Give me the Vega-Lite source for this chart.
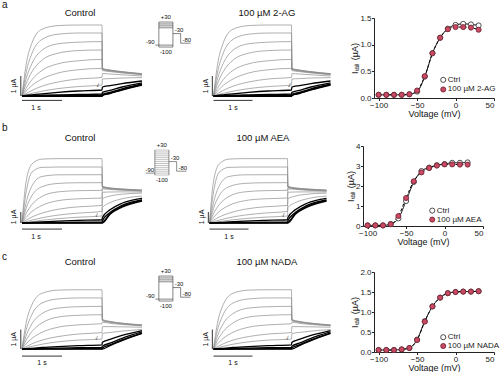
{
"$schema": "https://vega.github.io/schema/vega-lite/v6.json",
"padding": {"left": 2, "top": 0, "right": 1, "bottom": 0},
"config": {
 "font": "Liberation Sans",
 "view": {"stroke": null},
 "text": {"color": "#111"},
 "axis": {"labelFontSize": 8, "titleFontSize": 9, "titleFontWeight": "normal", "labelColor": "#222", "titleColor": "#111", "domainColor": "#222", "tickColor": "#222", "tickSize": 2.5, "labelPadding": 0.5, "titlePadding": 0, "grid": false}
},
"datasets": {
 "ta": [
{"k":1,"t":0,"i":0},{"k":1,"t":0.1,"i":1.53},{"k":1,"t":0.25,"i":2.66},{"k":1,"t":0.5,"i":3.34},{"k":1,"t":0.9,"i":3.52},{"k":1,"t":1.4,"i":3.55},{"k":1,"t":2,"i":3.55},{"k":1,"t":2.01,"i":1.38},{"k":1,"t":2.2,"i":1.3},{"k":1,"t":2.5,"i":1.22},{"k":1,"t":3,"i":1.12},
{"k":2,"t":0,"i":0},{"k":2,"t":0.1,"i":1.15},{"k":2,"t":0.25,"i":2.14},{"k":2,"t":0.5,"i":2.83},{"k":2,"t":0.9,"i":3.09},{"k":2,"t":1.4,"i":3.15},{"k":2,"t":2,"i":3.15},{"k":2,"t":2.01,"i":1.37},{"k":2,"t":2.2,"i":1.29},{"k":2,"t":2.5,"i":1.21},{"k":2,"t":3,"i":1.11},
{"k":3,"t":0,"i":0},{"k":3,"t":0.1,"i":0.84},{"k":3,"t":0.25,"i":1.63},{"k":3,"t":0.5,"i":2.29},{"k":3,"t":0.9,"i":2.61},{"k":3,"t":1.4,"i":2.69},{"k":3,"t":2,"i":2.72},{"k":3,"t":2.01,"i":1.36},{"k":3,"t":2.2,"i":1.28},{"k":3,"t":2.5,"i":1.2},{"k":3,"t":3,"i":1.1},
{"k":4,"t":0,"i":0},{"k":4,"t":0.1,"i":0.6},{"k":4,"t":0.25,"i":1.22},{"k":4,"t":0.5,"i":1.79},{"k":4,"t":0.9,"i":2.14},{"k":4,"t":1.4,"i":2.27},{"k":4,"t":2,"i":2.3},{"k":4,"t":2.01,"i":1.34},{"k":4,"t":2.2,"i":1.27},{"k":4,"t":2.5,"i":1.19},{"k":4,"t":3,"i":1.09},
{"k":5,"t":0,"i":0},{"k":5,"t":0.1,"i":0.38},{"k":5,"t":0.25,"i":0.82},{"k":5,"t":0.5,"i":1.28},{"k":5,"t":0.9,"i":1.61},{"k":5,"t":1.4,"i":1.76},{"k":5,"t":2,"i":1.83},{"k":5,"t":2.01,"i":1.32},{"k":5,"t":2.2,"i":1.25},{"k":5,"t":2.5,"i":1.18},{"k":5,"t":3,"i":1.08},
{"k":6,"t":0,"i":0},{"k":6,"t":0.1,"i":0.24},{"k":6,"t":0.25,"i":0.53},{"k":6,"t":0.5,"i":0.85},{"k":6,"t":0.9,"i":1.15},{"k":6,"t":1.4,"i":1.31},{"k":6,"t":2,"i":1.38},{"k":6,"t":2.01,"i":1.27},{"k":6,"t":2.2,"i":1.22},{"k":6,"t":2.5,"i":1.15},{"k":6,"t":3,"i":1.06},
{"k":7,"t":0,"i":0},{"k":7,"t":0.1,"i":0.12},{"k":7,"t":0.25,"i":0.28},{"k":7,"t":0.5,"i":0.49},{"k":7,"t":0.9,"i":0.7},{"k":7,"t":1.4,"i":0.85},{"k":7,"t":2,"i":0.93},{"k":7,"t":2.01,"i":1.12},{"k":7,"t":2.2,"i":1.1},{"k":7,"t":2.5,"i":1.06},{"k":7,"t":3,"i":1},
{"k":8,"t":0,"i":0},{"k":8,"t":0.1,"i":0.06},{"k":8,"t":0.25,"i":0.13},{"k":8,"t":0.5,"i":0.24},{"k":8,"t":0.9,"i":0.37},{"k":8,"t":1.4,"i":0.47},{"k":8,"t":2,"i":0.55},{"k":8,"t":2.01,"i":0.85},{"k":8,"t":2.2,"i":0.87},{"k":8,"t":2.5,"i":0.9},{"k":8,"t":3,"i":0.92},
{"k":9,"t":0,"i":0},{"k":9,"t":0.1,"i":0.03},{"k":9,"t":0.25,"i":0.06},{"k":9,"t":0.5,"i":0.11},{"k":9,"t":0.9,"i":0.18},{"k":9,"t":1.4,"i":0.25},{"k":9,"t":2,"i":0.3},{"k":9,"t":2.01,"i":0.45},{"k":9,"t":2.2,"i":0.52},{"k":9,"t":2.5,"i":0.62},{"k":9,"t":3,"i":0.75},
{"k":10,"t":0,"i":0},{"k":10,"t":0.1,"i":0.01},{"k":10,"t":0.25,"i":0.02},{"k":10,"t":0.5,"i":0.04},{"k":10,"t":0.9,"i":0.06},{"k":10,"t":1.4,"i":0.08},{"k":10,"t":2,"i":0.1},{"k":10,"t":2.01,"i":0.18},{"k":10,"t":2.2,"i":0.28},{"k":10,"t":2.5,"i":0.45},{"k":10,"t":3,"i":0.66},
{"k":11,"t":0,"i":0},{"k":11,"t":0.1,"i":0},{"k":11,"t":0.25,"i":0.01},{"k":11,"t":0.5,"i":0.01},{"k":11,"t":0.9,"i":0.02},{"k":11,"t":1.4,"i":0.03},{"k":11,"t":2,"i":0.03},{"k":11,"t":2.01,"i":0.08},{"k":11,"t":2.2,"i":0.18},{"k":11,"t":2.5,"i":0.36},{"k":11,"t":3,"i":0.6},
{"k":12,"t":0,"i":0},{"k":12,"t":0.1,"i":0},{"k":12,"t":0.25,"i":0},{"k":12,"t":0.5,"i":0},{"k":12,"t":0.9,"i":0},{"k":12,"t":1.4,"i":0},{"k":12,"t":2,"i":0},{"k":12,"t":2.01,"i":0.04},{"k":12,"t":2.2,"i":0.14},{"k":12,"t":2.5,"i":0.32},{"k":12,"t":3,"i":0.57},
{"k":13,"t":0,"i":0},{"k":13,"t":0.1,"i":-0.02},{"k":13,"t":0.25,"i":-0.02},{"k":13,"t":0.5,"i":-0.02},{"k":13,"t":0.9,"i":-0.02},{"k":13,"t":1.4,"i":-0.02},{"k":13,"t":2,"i":-0.02},{"k":13,"t":2.01,"i":0.02},{"k":13,"t":2.2,"i":0.12},{"k":13,"t":2.5,"i":0.3},{"k":13,"t":3,"i":0.55}
 ],
 "tb": [
{"k":1,"t":0,"i":0},{"k":1,"t":0.1,"i":3.7},{"k":1,"t":0.25,"i":5.37},{"k":1,"t":0.5,"i":5.81},{"k":1,"t":0.9,"i":5.85},{"k":1,"t":1.4,"i":5.85},{"k":1,"t":2,"i":5.85},{"k":1,"t":2.01,"i":3.35},{"k":1,"t":2.2,"i":3.2},{"k":1,"t":2.5,"i":3.1},{"k":1,"t":3,"i":3},
{"k":2,"t":0,"i":0},{"k":2,"t":0.1,"i":2.73},{"k":2,"t":0.25,"i":4.63},{"k":2,"t":0.5,"i":5.06},{"k":2,"t":0.9,"i":5.09},{"k":2,"t":1.4,"i":5.09},{"k":2,"t":2,"i":5.09},{"k":2,"t":2.01,"i":3.3},{"k":2,"t":2.2,"i":3.17},{"k":2,"t":2.5,"i":3.08},{"k":2,"t":3,"i":2.98},
{"k":3,"t":0,"i":0},{"k":3,"t":0.1,"i":1.8},{"k":3,"t":0.25,"i":3.38},{"k":3,"t":0.5,"i":4.23},{"k":3,"t":0.9,"i":4.38},{"k":3,"t":1.4,"i":4.39},{"k":3,"t":2,"i":4.39},{"k":3,"t":2.01,"i":3.28},{"k":3,"t":2.2,"i":3.15},{"k":3,"t":2.5,"i":3.06},{"k":3,"t":3,"i":2.96},
{"k":4,"t":0,"i":0},{"k":4,"t":0.1,"i":1.3},{"k":4,"t":0.25,"i":2.5},{"k":4,"t":0.5,"i":3.3},{"k":4,"t":0.9,"i":3.6},{"k":4,"t":1.4,"i":3.66},{"k":4,"t":2,"i":3.67},{"k":4,"t":2.01,"i":3.25},{"k":4,"t":2.2,"i":3.13},{"k":4,"t":2.5,"i":3.04},{"k":4,"t":3,"i":2.95},
{"k":5,"t":0,"i":0},{"k":5,"t":0.1,"i":0.84},{"k":5,"t":0.25,"i":1.68},{"k":5,"t":0.5,"i":2.42},{"k":5,"t":0.9,"i":2.83},{"k":5,"t":1.4,"i":2.94},{"k":5,"t":2,"i":2.97},{"k":5,"t":2.01,"i":3.2},{"k":5,"t":2.2,"i":3.1},{"k":5,"t":2.5,"i":3.02},{"k":5,"t":3,"i":2.93},
{"k":6,"t":0,"i":0},{"k":6,"t":0.1,"i":0.5},{"k":6,"t":0.25,"i":1.05},{"k":6,"t":0.5,"i":1.6},{"k":6,"t":0.9,"i":2.03},{"k":6,"t":1.4,"i":2.2},{"k":6,"t":2,"i":2.27},{"k":6,"t":2.01,"i":3.1},{"k":6,"t":2.2,"i":3.05},{"k":6,"t":2.5,"i":2.98},{"k":6,"t":3,"i":2.9},
{"k":7,"t":0,"i":0},{"k":7,"t":0.1,"i":0.25},{"k":7,"t":0.25,"i":0.55},{"k":7,"t":0.5,"i":0.9},{"k":7,"t":0.9,"i":1.25},{"k":7,"t":1.4,"i":1.47},{"k":7,"t":2,"i":1.6},{"k":7,"t":2.01,"i":2.8},{"k":7,"t":2.2,"i":2.82},{"k":7,"t":2.5,"i":2.83},{"k":7,"t":3,"i":2.82},
{"k":8,"t":0,"i":0},{"k":8,"t":0.1,"i":0.12},{"k":8,"t":0.25,"i":0.27},{"k":8,"t":0.5,"i":0.48},{"k":8,"t":0.9,"i":0.72},{"k":8,"t":1.4,"i":0.9},{"k":8,"t":2,"i":1.06},{"k":8,"t":2.01,"i":2.2},{"k":8,"t":2.2,"i":2.45},{"k":8,"t":2.5,"i":2.62},{"k":8,"t":3,"i":2.72},
{"k":9,"t":0,"i":0},{"k":9,"t":0.1,"i":0.05},{"k":9,"t":0.25,"i":0.13},{"k":9,"t":0.5,"i":0.25},{"k":9,"t":0.9,"i":0.4},{"k":9,"t":1.4,"i":0.53},{"k":9,"t":2,"i":0.64},{"k":9,"t":2.01,"i":1.4},{"k":9,"t":2.2,"i":1.85},{"k":9,"t":2.5,"i":2.2},{"k":9,"t":3,"i":2.45},
{"k":10,"t":0,"i":0},{"k":10,"t":0.1,"i":0.02},{"k":10,"t":0.25,"i":0.05},{"k":10,"t":0.5,"i":0.1},{"k":10,"t":0.9,"i":0.17},{"k":10,"t":1.4,"i":0.24},{"k":10,"t":2,"i":0.3},{"k":10,"t":2.01,"i":0.5},{"k":10,"t":2.2,"i":1.2},{"k":10,"t":2.5,"i":1.8},{"k":10,"t":3,"i":2.25},
{"k":11,"t":0,"i":0},{"k":11,"t":0.1,"i":0.01},{"k":11,"t":0.25,"i":0.02},{"k":11,"t":0.5,"i":0.03},{"k":11,"t":0.9,"i":0.05},{"k":11,"t":1.4,"i":0.07},{"k":11,"t":2,"i":0.1},{"k":11,"t":2.01,"i":0.2},{"k":11,"t":2.2,"i":0.95},{"k":11,"t":2.5,"i":1.6},{"k":11,"t":3,"i":2.1},
{"k":12,"t":0,"i":0},{"k":12,"t":0.1,"i":0},{"k":12,"t":0.25,"i":0.01},{"k":12,"t":0.5,"i":0.01},{"k":12,"t":0.9,"i":0.02},{"k":12,"t":1.4,"i":0.02},{"k":12,"t":2,"i":0.03},{"k":12,"t":2.01,"i":0.05},{"k":12,"t":2.2,"i":0.85},{"k":12,"t":2.5,"i":1.5},{"k":12,"t":3,"i":2.05},
{"k":13,"t":0,"i":0},{"k":13,"t":0.1,"i":0},{"k":13,"t":0.25,"i":0},{"k":13,"t":0.5,"i":0},{"k":13,"t":0.9,"i":0},{"k":13,"t":1.4,"i":0},{"k":13,"t":2,"i":0},{"k":13,"t":2.01,"i":0},{"k":13,"t":2.2,"i":0.8},{"k":13,"t":2.5,"i":1.45},{"k":13,"t":3,"i":2}
 ],
 "tc": [
{"k":1,"t":0,"i":0},{"k":1,"t":0.1,"i":1.31},{"k":1,"t":0.25,"i":2.28},{"k":1,"t":0.5,"i":2.86},{"k":1,"t":0.9,"i":3.02},{"k":1,"t":1.4,"i":3.04},{"k":1,"t":2,"i":3.04},{"k":1,"t":2.01,"i":1.52},{"k":1,"t":2.2,"i":1.42},{"k":1,"t":2.5,"i":1.33},{"k":1,"t":3,"i":1.24},
{"k":2,"t":0,"i":0},{"k":2,"t":0.1,"i":0.96},{"k":2,"t":0.25,"i":1.78},{"k":2,"t":0.5,"i":2.36},{"k":2,"t":0.9,"i":2.57},{"k":2,"t":1.4,"i":2.62},{"k":2,"t":2,"i":2.62},{"k":2,"t":2.01,"i":1.5},{"k":2,"t":2.2,"i":1.4},{"k":2,"t":2.5,"i":1.32},{"k":2,"t":3,"i":1.23},
{"k":3,"t":0,"i":0},{"k":3,"t":0.1,"i":0.66},{"k":3,"t":0.25,"i":1.3},{"k":3,"t":0.5,"i":1.82},{"k":3,"t":0.9,"i":2.1},{"k":3,"t":1.4,"i":2.17},{"k":3,"t":2,"i":2.19},{"k":3,"t":2.01,"i":1.48},{"k":3,"t":2.2,"i":1.39},{"k":3,"t":2.5,"i":1.31},{"k":3,"t":3,"i":1.22},
{"k":4,"t":0,"i":0},{"k":4,"t":0.1,"i":0.44},{"k":4,"t":0.25,"i":0.9},{"k":4,"t":0.5,"i":1.34},{"k":4,"t":0.9,"i":1.64},{"k":4,"t":1.4,"i":1.73},{"k":4,"t":2,"i":1.76},{"k":4,"t":2.01,"i":1.45},{"k":4,"t":2.2,"i":1.37},{"k":4,"t":2.5,"i":1.29},{"k":4,"t":3,"i":1.21},
{"k":5,"t":0,"i":0},{"k":5,"t":0.1,"i":0.26},{"k":5,"t":0.25,"i":0.55},{"k":5,"t":0.5,"i":0.86},{"k":5,"t":0.9,"i":1.12},{"k":5,"t":1.4,"i":1.24},{"k":5,"t":2,"i":1.3},{"k":5,"t":2.01,"i":1.38},{"k":5,"t":2.2,"i":1.32},{"k":5,"t":2.5,"i":1.26},{"k":5,"t":3,"i":1.19},
{"k":6,"t":0,"i":0},{"k":6,"t":0.1,"i":0.12},{"k":6,"t":0.25,"i":0.27},{"k":6,"t":0.5,"i":0.46},{"k":6,"t":0.9,"i":0.64},{"k":6,"t":1.4,"i":0.77},{"k":6,"t":2,"i":0.85},{"k":6,"t":2.01,"i":1.15},{"k":6,"t":2.2,"i":1.15},{"k":6,"t":2.5,"i":1.14},{"k":6,"t":3,"i":1.12},
{"k":7,"t":0,"i":0},{"k":7,"t":0.1,"i":0.06},{"k":7,"t":0.25,"i":0.14},{"k":7,"t":0.5,"i":0.25},{"k":7,"t":0.9,"i":0.37},{"k":7,"t":1.4,"i":0.46},{"k":7,"t":2,"i":0.51},{"k":7,"t":2.01,"i":0.8},{"k":7,"t":2.2,"i":0.85},{"k":7,"t":2.5,"i":0.92},{"k":7,"t":3,"i":1},
{"k":8,"t":0,"i":0},{"k":8,"t":0.1,"i":0.02},{"k":8,"t":0.25,"i":0.04},{"k":8,"t":0.5,"i":0.08},{"k":8,"t":0.9,"i":0.13},{"k":8,"t":1.4,"i":0.18},{"k":8,"t":2,"i":0.22},{"k":8,"t":2.01,"i":0.35},{"k":8,"t":2.2,"i":0.5},{"k":8,"t":2.5,"i":0.7},{"k":8,"t":3,"i":0.95},
{"k":9,"t":0,"i":0},{"k":9,"t":0.1,"i":0.01},{"k":9,"t":0.25,"i":0.01},{"k":9,"t":0.5,"i":0.03},{"k":9,"t":0.9,"i":0.05},{"k":9,"t":1.4,"i":0.07},{"k":9,"t":2,"i":0.09},{"k":9,"t":2.01,"i":0.15},{"k":9,"t":2.2,"i":0.3},{"k":9,"t":2.5,"i":0.55},{"k":9,"t":3,"i":0.88},
{"k":10,"t":0,"i":0},{"k":10,"t":0.1,"i":0},{"k":10,"t":0.25,"i":0},{"k":10,"t":0.5,"i":0.01},{"k":10,"t":0.9,"i":0.01},{"k":10,"t":1.4,"i":0.02},{"k":10,"t":2,"i":0.02},{"k":10,"t":2.01,"i":0.05},{"k":10,"t":2.2,"i":0.22},{"k":10,"t":2.5,"i":0.47},{"k":10,"t":3,"i":0.82},
{"k":11,"t":0,"i":0},{"k":11,"t":0.1,"i":0},{"k":11,"t":0.25,"i":0},{"k":11,"t":0.5,"i":0},{"k":11,"t":0.9,"i":0},{"k":11,"t":1.4,"i":0},{"k":11,"t":2,"i":0},{"k":11,"t":2.01,"i":0},{"k":11,"t":2.2,"i":0.18},{"k":11,"t":2.5,"i":0.43},{"k":11,"t":3,"i":0.8}
 ],
 "iva": [
{"v":-100,"i":0.06,"g":"Ctrl"},{"v":-90,"i":0.06,"g":"Ctrl"},{"v":-80,"i":0.06,"g":"Ctrl"},{"v":-70,"i":0.06,"g":"Ctrl"},{"v":-60,"i":0.07,"g":"Ctrl"},{"v":-50,"i":0.12,"g":"Ctrl"},{"v":-40,"i":0.4,"g":"Ctrl"},{"v":-30,"i":0.84,"g":"Ctrl"},{"v":-20,"i":1.13,"g":"Ctrl"},{"v":-10,"i":1.3,"g":"Ctrl"},{"v":0,"i":1.37,"g":"Ctrl"},{"v":10,"i":1.39,"g":"Ctrl"},{"v":20,"i":1.38,"g":"Ctrl"},{"v":30,"i":1.36,"g":"Ctrl"},
{"v":-100,"i":0.06,"g":"Drug"},{"v":-90,"i":0.06,"g":"Drug"},{"v":-80,"i":0.06,"g":"Drug"},{"v":-70,"i":0.06,"g":"Drug"},{"v":-60,"i":0.07,"g":"Drug"},{"v":-50,"i":0.14,"g":"Drug"},{"v":-40,"i":0.41,"g":"Drug"},{"v":-30,"i":0.84,"g":"Drug"},{"v":-20,"i":1.13,"g":"Drug"},{"v":-10,"i":1.29,"g":"Drug"},{"v":0,"i":1.33,"g":"Drug"},{"v":10,"i":1.33,"g":"Drug"},{"v":20,"i":1.32,"g":"Drug"},{"v":30,"i":1.28,"g":"Drug"}
 ],
 "ivb": [
{"v":-100,"i":0.03,"g":"Ctrl"},{"v":-90,"i":0.03,"g":"Ctrl"},{"v":-80,"i":0.03,"g":"Ctrl"},{"v":-70,"i":0.1,"g":"Ctrl"},{"v":-60,"i":0.38,"g":"Ctrl"},{"v":-50,"i":1.25,"g":"Ctrl"},{"v":-40,"i":2.2,"g":"Ctrl"},{"v":-30,"i":2.75,"g":"Ctrl"},{"v":-20,"i":2.92,"g":"Ctrl"},{"v":-10,"i":3.04,"g":"Ctrl"},{"v":0,"i":3.1,"g":"Ctrl"},{"v":10,"i":3.16,"g":"Ctrl"},{"v":20,"i":3.16,"g":"Ctrl"},{"v":30,"i":3.18,"g":"Ctrl"},
{"v":-100,"i":0.03,"g":"Drug"},{"v":-90,"i":0.03,"g":"Drug"},{"v":-80,"i":0.03,"g":"Drug"},{"v":-70,"i":0.09,"g":"Drug"},{"v":-60,"i":0.5,"g":"Drug"},{"v":-50,"i":1.4,"g":"Drug"},{"v":-40,"i":2.24,"g":"Drug"},{"v":-30,"i":2.68,"g":"Drug"},{"v":-20,"i":2.9,"g":"Drug"},{"v":-10,"i":3.02,"g":"Drug"},{"v":0,"i":3.08,"g":"Drug"},{"v":10,"i":3.08,"g":"Drug"},{"v":20,"i":3.07,"g":"Drug"},{"v":30,"i":3.07,"g":"Drug"}
 ],
 "ivc": [
{"v":-100,"i":0.05,"g":"Ctrl"},{"v":-90,"i":0.05,"g":"Ctrl"},{"v":-80,"i":0.05,"g":"Ctrl"},{"v":-70,"i":0.065,"g":"Ctrl"},{"v":-60,"i":0.1,"g":"Ctrl"},{"v":-50,"i":0.31,"g":"Ctrl"},{"v":-40,"i":0.77,"g":"Ctrl"},{"v":-30,"i":1.14,"g":"Ctrl"},{"v":-20,"i":1.36,"g":"Ctrl"},{"v":-10,"i":1.47,"g":"Ctrl"},{"v":0,"i":1.5,"g":"Ctrl"},{"v":10,"i":1.51,"g":"Ctrl"},{"v":20,"i":1.51,"g":"Ctrl"},{"v":30,"i":1.52,"g":"Ctrl"},
{"v":-100,"i":0.05,"g":"Drug"},{"v":-90,"i":0.05,"g":"Drug"},{"v":-80,"i":0.05,"g":"Drug"},{"v":-70,"i":0.065,"g":"Drug"},{"v":-60,"i":0.1,"g":"Drug"},{"v":-50,"i":0.3,"g":"Drug"},{"v":-40,"i":0.76,"g":"Drug"},{"v":-30,"i":1.14,"g":"Drug"},{"v":-20,"i":1.36,"g":"Drug"},{"v":-10,"i":1.47,"g":"Drug"},{"v":0,"i":1.5,"g":"Drug"},{"v":10,"i":1.51,"g":"Drug"},{"v":20,"i":1.51,"g":"Drug"},{"v":30,"i":1.52,"g":"Drug"}
 ],
 "protoA": [
{"t": -0.5, "v": -90, "t2": 0, "v2": -90}, {"t": 0, "v": -100, "t2": 0, "v2": 30}, {"t": 2, "v": -100, "t2": 2, "v2": 30},
{"t": 0, "v": 30, "t2": 2, "v2": 30}, {"t": 0, "v": 20, "t2": 2, "v2": 20}, {"t": 0, "v": 10, "t2": 2, "v2": 10}, {"t": 0, "v": 0, "t2": 2, "v2": 0},
{"t": 0, "v": -90, "t2": 2, "v2": -90}, {"t": 0, "v": -100, "t2": 2, "v2": -100},
{"t": 2, "v": -30, "t2": 3.1, "v2": -30}, {"t": 3.1, "v": -30, "t2": 3.1, "v2": -80}, {"t": 3.1, "v": -80, "t2": 4.5, "v2": -80}
 ],
 "protoB": [
{"t": 0, "v": 30, "t2": 2, "v2": 30}, {"t": 0, "v": 20, "t2": 2, "v2": 20}, {"t": 0, "v": 10, "t2": 2, "v2": 10}, {"t": 0, "v": 0, "t2": 2, "v2": 0},
{"t": 0, "v": -10, "t2": 2, "v2": -10}, {"t": 0, "v": -20, "t2": 2, "v2": -20}, {"t": 0, "v": -30, "t2": 2, "v2": -30}, {"t": 0, "v": -40, "t2": 2, "v2": -40},
{"t": 0, "v": -50, "t2": 2, "v2": -50}, {"t": 0, "v": -60, "t2": 2, "v2": -60}, {"t": 0, "v": -70, "t2": 2, "v2": -70}, {"t": 0, "v": -80, "t2": 2, "v2": -80},
{"t": 0, "v": -90, "t2": 2, "v2": -90}, {"t": 0, "v": -100, "t2": 2, "v2": -100},
{"t": -1.3, "v": -90, "t2": 0, "v2": -90}, {"t": 0, "v": -100, "t2": 0, "v2": 30}, {"t": 2, "v": -100, "t2": 2, "v2": 30},
{"t": 2, "v": -30, "t2": 3.1, "v2": -30}, {"t": 3.1, "v": -30, "t2": 3.1, "v2": -80}, {"t": 3.1, "v": -80, "t2": 4.5, "v2": -80}
 ]
},
"spacing": 5,
"resolve": {"scale": {"x": "independent", "y": "independent", "fill": "independent", "stroke": "independent", "strokeDash": "independent"}},
"vconcat": [
 {
  "spacing": 0,
  "resolve": {"scale": {"x": "independent", "y": "independent", "fill": "independent", "stroke": "independent", "strokeDash": "independent"}},
  "hconcat": [
   {
    "width": 140, "height": 80,
    "layer": [
     {"data": {"name": "ta"}, "mark": {"type": "line", "interpolate": "monotone"}, "encoding": {
       "x": {"field": "t", "type": "quantitative", "scale": {"domain": [-0.5, 3.0], "nice": false, "zero": false}, "axis": null},
       "y": {"field": "i", "type": "quantitative", "scale": {"domain": [-0.1, 3.9], "nice": false, "zero": false}, "axis": null},
       "detail": {"field": "k", "type": "quantitative"}, "color": {"condition": {"test": "datum.k >= 9", "value": "#000000"}, "value": "#8c8c8c"}, "strokeWidth": {"condition": {"test": "datum.k >= 9", "value": 1.3}, "value": 0.7}}},
     {"data": {"values": [{}]}, "mark": {"type": "rule", "color": "#000", "strokeWidth": 0.8}, "encoding": {"x": {"datum": -0.03, "axis": null}, "y": {"datum": 0, "axis": null}, "y2": {"datum": 1}}},
     {"data": {"values": [{}]}, "mark": {"type": "rule", "color": "#000", "strokeWidth": 0.8}, "encoding": {"x": {"datum": 0, "axis": null}, "x2": {"datum": 1}, "y": {"datum": -0.22, "axis": null}}},
     {"data": {"values": [{}]}, "mark": {"type": "text", "angle": 270, "fontSize": 7}, "encoding": {"x": {"datum": -0.2, "axis": null}, "y": {"datum": 0.5, "axis": null}, "text": {"value": "1 µA"}}},
     {"data": {"values": [{}]}, "mark": {"type": "text", "fontSize": 7}, "encoding": {"x": {"datum": 0.35, "axis": null}, "y": {"datum": -0.6, "axis": null}, "text": {"value": "1 s"}}},
     {"data": {"values": [{}]}, "mark": {"type": "text", "fontSize": 7, "angle": 20}, "encoding": {"x": {"datum": 1.9, "axis": null}, "y": {"datum": 0.55, "axis": null}, "text": {"value": "↓"}}},
     {"data": {"values": [{}]}, "mark": {"type": "text", "fontSize": 9.5}, "encoding": {"x": {"datum": 1.45, "axis": null}, "y": {"datum": 4.15, "axis": null}, "text": {"value": "Control"}}},
     {"data": {"values": [{}]}, "mark": {"type": "text", "fontSize": 10, "align": "left"}, "encoding": {"x": {"datum": -0.5, "axis": null}, "y": {"datum": 4.55, "axis": null}, "text": {"value": "a"}}}
    ]
   },
   {
    "width": 45, "height": 40,
    "layer": [
     {"data": {"name": "protoA"}, "mark": {"type": "rule", "color": "#333", "strokeWidth": 0.6}, "encoding": {
       "x": {"field": "t", "type": "quantitative", "scale": {"domain": [-1.4, 5.0], "nice": false, "zero": false}, "axis": null},
       "y": {"field": "v", "type": "quantitative", "scale": {"domain": [-157, 51], "nice": false, "zero": false}, "axis": null},
       "x2": {"field": "t2"}, "y2": {"field": "v2"}}},
     {"data": {"values": [{}]}, "mark": {"type": "text", "fontSize": 6}, "encoding": {"x": {"datum": 1, "axis": null}, "y": {"datum": 56, "axis": null}, "text": {"value": "+30"}}},
     {"data": {"values": [{}]}, "mark": {"type": "text", "fontSize": 6}, "encoding": {"x": {"datum": 1, "axis": null}, "y": {"datum": -126, "axis": null}, "text": {"value": "-100"}}},
     {"data": {"values": [{}]}, "mark": {"type": "text", "fontSize": 6, "align": "right"}, "encoding": {"x": {"datum": -0.6, "axis": null}, "y": {"datum": -75, "axis": null}, "text": {"value": "-90"}}},
     {"data": {"values": [{}]}, "mark": {"type": "text", "fontSize": 6, "align": "left"}, "encoding": {"x": {"datum": 2.25, "axis": null}, "y": {"datum": -12, "axis": null}, "text": {"value": "-30"}}},
     {"data": {"values": [{}]}, "mark": {"type": "text", "fontSize": 6, "align": "left"}, "encoding": {"x": {"datum": 3.35, "axis": null}, "y": {"datum": -63, "axis": null}, "text": {"value": "-80"}}}
    ]
   },
   {
    "width": 156, "height": 80,
    "layer": [
     {"data": {"name": "ta"}, "mark": {"type": "line", "interpolate": "monotone"}, "encoding": {
       "x": {"field": "t", "type": "quantitative", "scale": {"domain": [-0.5, 3.5], "nice": false, "zero": false}, "axis": null},
       "y": {"field": "i", "type": "quantitative", "scale": {"domain": [-0.1, 3.9], "nice": false, "zero": false}, "axis": null},
       "detail": {"field": "k", "type": "quantitative"}, "color": {"condition": {"test": "datum.k >= 9", "value": "#000000"}, "value": "#8c8c8c"}, "strokeWidth": {"condition": {"test": "datum.k >= 9", "value": 1.3}, "value": 0.7}}},
     {"data": {"values": [{}]}, "mark": {"type": "rule", "color": "#000", "strokeWidth": 0.8}, "encoding": {"x": {"datum": -0.03, "axis": null}, "y": {"datum": 0, "axis": null}, "y2": {"datum": 1}}},
     {"data": {"values": [{}]}, "mark": {"type": "rule", "color": "#000", "strokeWidth": 0.8}, "encoding": {"x": {"datum": 0, "axis": null}, "x2": {"datum": 1}, "y": {"datum": -0.22, "axis": null}}},
     {"data": {"values": [{}]}, "mark": {"type": "text", "angle": 270, "fontSize": 7}, "encoding": {"x": {"datum": -0.2, "axis": null}, "y": {"datum": 0.5, "axis": null}, "text": {"value": "1 µA"}}},
     {"data": {"values": [{}]}, "mark": {"type": "text", "fontSize": 7}, "encoding": {"x": {"datum": 0.5, "axis": null}, "y": {"datum": -0.6, "axis": null}, "text": {"value": "1 s"}}},
     {"data": {"values": [{}]}, "mark": {"type": "text", "fontSize": 7, "angle": 20}, "encoding": {"x": {"datum": 1.95, "axis": null}, "y": {"datum": 0.55, "axis": null}, "text": {"value": "↓"}}},
     {"data": {"values": [{}]}, "mark": {"type": "text", "fontSize": 9.5}, "encoding": {"x": {"datum": 1.37, "axis": null}, "y": {"datum": 4.15, "axis": null}, "text": {"value": "100 µM 2-AG"}}}
    ]
   },
   {
    "width": 120, "height": 80,
    "layer": [
     {"data": {"name": "iva"}, "mark": {"type": "line", "interpolate": "monotone", "color": "#000", "strokeWidth": 1}, "encoding": {
       "x": {"field": "v", "type": "quantitative", "scale": {"domain": [-106, 50], "nice": false, "zero": false}, "axis": {"values": [-100, -50, 0, 50], "title": "Voltage (mV)"}},
       "y": {"field": "i", "type": "quantitative", "scale": {"domain": [0, 1.5], "nice": false}, "axis": {"values": [0, 0.5, 1, 1.5], "format": ".1f", "title": "Iₜₐᵢₗ (µA)"}},
       "strokeDash": {"field": "g", "type": "nominal", "scale": {"domain": ["Ctrl", "Drug"], "range": [[1, 0], [3, 2]]}, "legend": null}}},
     {"data": {"name": "iva"}, "mark": {"type": "circle", "size": 26, "strokeWidth": 0.8, "opacity": 1}, "encoding": {
       "x": {"field": "v", "type": "quantitative", "axis": {"values": [-100, -50, 0, 50], "title": "Voltage (mV)"}},
       "y": {"field": "i", "type": "quantitative", "axis": {"values": [0, 0.5, 1, 1.5], "format": ".1f", "title": "Iₜₐᵢₗ (µA)"}},
       "fill": {"field": "g", "type": "nominal", "scale": {"domain": ["Ctrl", "Drug"], "range": ["#ffffff", "#c94a62"]}, "legend": null},
       "stroke": {"field": "g", "type": "nominal", "scale": {"domain": ["Ctrl", "Drug"], "range": ["#222222", "#6b2030"]}, "legend": null}}},
     {"data": {"values": [{}]}, "mark": {"type": "circle", "size": 26, "strokeWidth": 0.8, "opacity": 1, "fill": "#ffffff", "stroke": "#222222"}, "encoding": {"x": {"datum": -16, "axis": {"values": [-100, -50, 0, 50], "title": "Voltage (mV)"}}, "y": {"datum": 0.34, "axis": {"values": [0, 0.5, 1, 1.5], "format": ".1f", "title": "Iₜₐᵢₗ (µA)"}}}},
     {"data": {"values": [{}]}, "mark": {"type": "circle", "size": 26, "strokeWidth": 0.8, "opacity": 1, "fill": "#c94a62", "stroke": "#6b2030"}, "encoding": {"x": {"datum": -16, "axis": {"values": [-100, -50, 0, 50], "title": "Voltage (mV)"}}, "y": {"datum": 0.16, "axis": {"values": [0, 0.5, 1, 1.5], "format": ".1f", "title": "Iₜₐᵢₗ (µA)"}}}},
     {"data": {"values": [{}]}, "mark": {"type": "text", "fontSize": 8, "align": "left", "color": "#222"}, "encoding": {"x": {"datum": -10, "axis": {"values": [-100, -50, 0, 50], "title": "Voltage (mV)"}}, "y": {"datum": 0.34, "axis": {"values": [0, 0.5, 1, 1.5], "format": ".1f", "title": "Iₜₐᵢₗ (µA)"}}, "text": {"value": "Ctrl"}}},
     {"data": {"values": [{}]}, "mark": {"type": "text", "fontSize": 8, "align": "left", "color": "#222"}, "encoding": {"x": {"datum": -10, "axis": {"values": [-100, -50, 0, 50], "title": "Voltage (mV)"}}, "y": {"datum": 0.16, "axis": {"values": [0, 0.5, 1, 1.5], "format": ".1f", "title": "Iₜₐᵢₗ (µA)"}}, "text": {"value": "100 µM 2-AG"}}}
    ]
   }
  ]
 },
 {
  "spacing": 0,
  "resolve": {"scale": {"x": "independent", "y": "independent", "fill": "independent", "stroke": "independent", "strokeDash": "independent"}},
  "hconcat": [
   {
    "width": 140, "height": 80,
    "layer": [
     {"data": {"name": "tb"}, "mark": {"type": "line", "interpolate": "monotone"}, "encoding": {
       "x": {"field": "t", "type": "quantitative", "scale": {"domain": [-0.5, 3.0], "nice": false, "zero": false}, "axis": null},
       "y": {"field": "i", "type": "quantitative", "scale": {"domain": [-0.27, 7.0], "nice": false, "zero": false}, "axis": null},
       "detail": {"field": "k", "type": "quantitative"}, "color": {"condition": {"test": "datum.k >= 10", "value": "#000000"}, "value": "#8c8c8c"}, "strokeWidth": {"condition": {"test": "datum.k >= 10", "value": 1.3}, "value": 0.7}}},
     {"data": {"values": [{}]}, "mark": {"type": "rule", "color": "#000", "strokeWidth": 0.8}, "encoding": {"x": {"datum": -0.03, "axis": null}, "y": {"datum": 0, "axis": null}, "y2": {"datum": 1}}},
     {"data": {"values": [{}]}, "mark": {"type": "rule", "color": "#000", "strokeWidth": 0.8}, "encoding": {"x": {"datum": 0, "axis": null}, "x2": {"datum": 1}, "y": {"datum": -0.55, "axis": null}}},
     {"data": {"values": [{}]}, "mark": {"type": "text", "angle": 270, "fontSize": 7}, "encoding": {"x": {"datum": -0.2, "axis": null}, "y": {"datum": 0.55, "axis": null}, "text": {"value": "1 µA"}}},
     {"data": {"values": [{}]}, "mark": {"type": "text", "fontSize": 7}, "encoding": {"x": {"datum": 0.35, "axis": null}, "y": {"datum": -1.27, "axis": null}, "text": {"value": "1 s"}}},
     {"data": {"values": [{}]}, "mark": {"type": "text", "fontSize": 7, "angle": 20}, "encoding": {"x": {"datum": 1.87, "axis": null}, "y": {"datum": 0.75, "axis": null}, "text": {"value": "↓"}}},
     {"data": {"values": [{}]}, "mark": {"type": "text", "fontSize": 9.5}, "encoding": {"x": {"datum": 1.45, "axis": null}, "y": {"datum": 7.73, "axis": null}, "text": {"value": "Control"}}},
     {"data": {"values": [{}]}, "mark": {"type": "text", "fontSize": 10, "align": "left"}, "encoding": {"x": {"datum": -0.5, "axis": null}, "y": {"datum": 8.6, "axis": null}, "text": {"value": "b"}}}
    ]
   },
   {
    "width": 45, "height": 40,
    "layer": [
     {"data": {"name": "protoB"}, "mark": {"type": "rule", "strokeWidth": 0.6}, "encoding": {
       "x": {"field": "t", "type": "quantitative", "scale": {"domain": [-1.4, 5.0], "nice": false, "zero": false}, "axis": null},
       "y": {"field": "v", "type": "quantitative", "scale": {"domain": [-157, 51], "nice": false, "zero": false}, "axis": null},
       "x2": {"field": "t2"}, "y2": {"field": "v2"},
       "color": {"condition": {"test": "datum.t < 0 || datum.t > 0 || datum.v2 != datum.v", "value": "#444444"}, "value": "#9a9a9a"}}},
     {"data": {"values": [{}]}, "mark": {"type": "text", "fontSize": 6}, "encoding": {"x": {"datum": 1, "axis": null}, "y": {"datum": 56, "axis": null}, "text": {"value": "+30"}}},
     {"data": {"values": [{}]}, "mark": {"type": "text", "fontSize": 6}, "encoding": {"x": {"datum": 1, "axis": null}, "y": {"datum": -126, "axis": null}, "text": {"value": "-100"}}},
     {"data": {"values": [{}]}, "mark": {"type": "text", "fontSize": 6, "align": "right"}, "encoding": {"x": {"datum": -0.1, "axis": null}, "y": {"datum": -75, "axis": null}, "text": {"value": "-90"}}},
     {"data": {"values": [{}]}, "mark": {"type": "text", "fontSize": 6, "align": "left"}, "encoding": {"x": {"datum": 2.25, "axis": null}, "y": {"datum": -12, "axis": null}, "text": {"value": "-30"}}},
     {"data": {"values": [{}]}, "mark": {"type": "text", "fontSize": 6, "align": "left"}, "encoding": {"x": {"datum": 3.35, "axis": null}, "y": {"datum": -63, "axis": null}, "text": {"value": "-80"}}}
    ]
   },
   {
    "width": 156, "height": 80,
    "layer": [
     {"data": {"name": "tb"}, "mark": {"type": "line", "interpolate": "monotone"}, "encoding": {
       "x": {"field": "t", "type": "quantitative", "scale": {"domain": [-0.5, 3.5], "nice": false, "zero": false}, "axis": null},
       "y": {"field": "i", "type": "quantitative", "scale": {"domain": [-0.27, 7.0], "nice": false, "zero": false}, "axis": null},
       "detail": {"field": "k", "type": "quantitative"}, "color": {"condition": {"test": "datum.k >= 10", "value": "#000000"}, "value": "#8c8c8c"}, "strokeWidth": {"condition": {"test": "datum.k >= 10", "value": 1.3}, "value": 0.7}}},
     {"data": {"values": [{}]}, "mark": {"type": "rule", "color": "#000", "strokeWidth": 0.8}, "encoding": {"x": {"datum": -0.03, "axis": null}, "y": {"datum": 0, "axis": null}, "y2": {"datum": 1}}},
     {"data": {"values": [{}]}, "mark": {"type": "rule", "color": "#000", "strokeWidth": 0.8}, "encoding": {"x": {"datum": 0, "axis": null}, "x2": {"datum": 1}, "y": {"datum": -0.55, "axis": null}}},
     {"data": {"values": [{}]}, "mark": {"type": "text", "angle": 270, "fontSize": 7}, "encoding": {"x": {"datum": -0.2, "axis": null}, "y": {"datum": 0.55, "axis": null}, "text": {"value": "1 µA"}}},
     {"data": {"values": [{}]}, "mark": {"type": "text", "fontSize": 7}, "encoding": {"x": {"datum": 0.5, "axis": null}, "y": {"datum": -1.27, "axis": null}, "text": {"value": "1 s"}}},
     {"data": {"values": [{}]}, "mark": {"type": "text", "fontSize": 7, "angle": 20}, "encoding": {"x": {"datum": 1.9, "axis": null}, "y": {"datum": 0.75, "axis": null}, "text": {"value": "↓"}}},
     {"data": {"values": [{}]}, "mark": {"type": "text", "fontSize": 9.5}, "encoding": {"x": {"datum": 1.37, "axis": null}, "y": {"datum": 7.73, "axis": null}, "text": {"value": "100 µM AEA"}}}
    ]
   },
   {
    "width": 120, "height": 80,
    "layer": [
     {"data": {"name": "ivb"}, "mark": {"type": "line", "interpolate": "monotone", "color": "#000", "strokeWidth": 1}, "encoding": {
       "x": {"field": "v", "type": "quantitative", "scale": {"domain": [-106, 50], "nice": false, "zero": false}, "axis": {"values": [-100, -50, 0, 50], "title": "Voltage (mV)"}},
       "y": {"field": "i", "type": "quantitative", "scale": {"domain": [0, 4], "nice": false}, "axis": {"values": [0, 1, 2, 3, 4], "format": "d", "title": "Iₜₐᵢₗ (µA)"}},
       "strokeDash": {"field": "g", "type": "nominal", "scale": {"domain": ["Ctrl", "Drug"], "range": [[1, 0], [3, 2]]}, "legend": null}}},
     {"data": {"name": "ivb"}, "mark": {"type": "circle", "size": 26, "strokeWidth": 0.8, "opacity": 1}, "encoding": {
       "x": {"field": "v", "type": "quantitative", "axis": {"values": [-100, -50, 0, 50], "title": "Voltage (mV)"}},
       "y": {"field": "i", "type": "quantitative", "axis": {"values": [0, 1, 2, 3, 4], "format": "d", "title": "Iₜₐᵢₗ (µA)"}},
       "fill": {"field": "g", "type": "nominal", "scale": {"domain": ["Ctrl", "Drug"], "range": ["#ffffff", "#c94a62"]}, "legend": null},
       "stroke": {"field": "g", "type": "nominal", "scale": {"domain": ["Ctrl", "Drug"], "range": ["#222222", "#6b2030"]}, "legend": null}}},
     {"data": {"values": [{}]}, "mark": {"type": "circle", "size": 26, "strokeWidth": 0.8, "opacity": 1, "fill": "#ffffff", "stroke": "#222222"}, "encoding": {"x": {"datum": -16, "axis": {"values": [-100, -50, 0, 50], "title": "Voltage (mV)"}}, "y": {"datum": 0.77, "axis": {"values": [0, 1, 2, 3, 4], "format": "d", "title": "Iₜₐᵢₗ (µA)"}}}},
     {"data": {"values": [{}]}, "mark": {"type": "circle", "size": 26, "strokeWidth": 0.8, "opacity": 1, "fill": "#c94a62", "stroke": "#6b2030"}, "encoding": {"x": {"datum": -16, "axis": {"values": [-100, -50, 0, 50], "title": "Voltage (mV)"}}, "y": {"datum": 0.32, "axis": {"values": [0, 1, 2, 3, 4], "format": "d", "title": "Iₜₐᵢₗ (µA)"}}}},
     {"data": {"values": [{}]}, "mark": {"type": "text", "fontSize": 8, "align": "left", "color": "#222"}, "encoding": {"x": {"datum": -10, "axis": {"values": [-100, -50, 0, 50], "title": "Voltage (mV)"}}, "y": {"datum": 0.77, "axis": {"values": [0, 1, 2, 3, 4], "format": "d", "title": "Iₜₐᵢₗ (µA)"}}, "text": {"value": "Ctrl"}}},
     {"data": {"values": [{}]}, "mark": {"type": "text", "fontSize": 8, "align": "left", "color": "#222"}, "encoding": {"x": {"datum": -10, "axis": {"values": [-100, -50, 0, 50], "title": "Voltage (mV)"}}, "y": {"datum": 0.32, "axis": {"values": [0, 1, 2, 3, 4], "format": "d", "title": "Iₜₐᵢₗ (µA)"}}, "text": {"value": "100 µM AEA"}}}
    ]
   }
  ]
 },
 {
  "spacing": 0,
  "resolve": {"scale": {"x": "independent", "y": "independent", "fill": "independent", "stroke": "independent", "strokeDash": "independent"}},
  "hconcat": [
   {
    "width": 140, "height": 80,
    "layer": [
     {"data": {"name": "tc"}, "mark": {"type": "line", "interpolate": "monotone"}, "encoding": {
       "x": {"field": "t", "type": "quantitative", "scale": {"domain": [-0.5, 3.0], "nice": false, "zero": false}, "axis": null},
       "y": {"field": "i", "type": "quantitative", "scale": {"domain": [-0.15, 3.95], "nice": false, "zero": false}, "axis": null},
       "detail": {"field": "k", "type": "quantitative"}, "color": {"condition": {"test": "datum.k >= 8", "value": "#000000"}, "value": "#8c8c8c"}, "strokeWidth": {"condition": {"test": "datum.k >= 8", "value": 1.3}, "value": 0.7}}},
     {"data": {"values": [{}]}, "mark": {"type": "rule", "color": "#000", "strokeWidth": 0.8}, "encoding": {"x": {"datum": -0.03, "axis": null}, "y": {"datum": 0, "axis": null}, "y2": {"datum": 1}}},
     {"data": {"values": [{}]}, "mark": {"type": "rule", "color": "#000", "strokeWidth": 0.8}, "encoding": {"x": {"datum": 0, "axis": null}, "x2": {"datum": 1}, "y": {"datum": -0.36, "axis": null}}},
     {"data": {"values": [{}]}, "mark": {"type": "text", "angle": 270, "fontSize": 7}, "encoding": {"x": {"datum": -0.2, "axis": null}, "y": {"datum": 0.5, "axis": null}, "text": {"value": "1 µA"}}},
     {"data": {"values": [{}]}, "mark": {"type": "text", "fontSize": 7}, "encoding": {"x": {"datum": 0.5, "axis": null}, "y": {"datum": -0.72, "axis": null}, "text": {"value": "1 s"}}},
     {"data": {"values": [{}]}, "mark": {"type": "text", "fontSize": 7, "angle": 20}, "encoding": {"x": {"datum": 1.87, "axis": null}, "y": {"datum": 0.58, "axis": null}, "text": {"value": "↓"}}},
     {"data": {"values": [{}]}, "mark": {"type": "text", "fontSize": 9.5}, "encoding": {"x": {"datum": 1.45, "axis": null}, "y": {"datum": 4.46, "axis": null}, "text": {"value": "Control"}}},
     {"data": {"values": [{}]}, "mark": {"type": "text", "fontSize": 10, "align": "left"}, "encoding": {"x": {"datum": -0.5, "axis": null}, "y": {"datum": 4.72, "axis": null}, "text": {"value": "c"}}}
    ]
   },
   {
    "width": 45, "height": 40,
    "layer": [
     {"data": {"name": "protoA"}, "mark": {"type": "rule", "color": "#333", "strokeWidth": 0.6}, "encoding": {
       "x": {"field": "t", "type": "quantitative", "scale": {"domain": [-1.4, 5.0], "nice": false, "zero": false}, "axis": null},
       "y": {"field": "v", "type": "quantitative", "scale": {"domain": [-157, 51], "nice": false, "zero": false}, "axis": null},
       "x2": {"field": "t2"}, "y2": {"field": "v2"}}},
     {"data": {"values": [{}]}, "mark": {"type": "text", "fontSize": 6}, "encoding": {"x": {"datum": 1, "axis": null}, "y": {"datum": 56, "axis": null}, "text": {"value": "+30"}}},
     {"data": {"values": [{}]}, "mark": {"type": "text", "fontSize": 6}, "encoding": {"x": {"datum": 1, "axis": null}, "y": {"datum": -126, "axis": null}, "text": {"value": "-100"}}},
     {"data": {"values": [{}]}, "mark": {"type": "text", "fontSize": 6, "align": "right"}, "encoding": {"x": {"datum": -0.6, "axis": null}, "y": {"datum": -75, "axis": null}, "text": {"value": "-90"}}},
     {"data": {"values": [{}]}, "mark": {"type": "text", "fontSize": 6, "align": "left"}, "encoding": {"x": {"datum": 2.25, "axis": null}, "y": {"datum": -12, "axis": null}, "text": {"value": "-30"}}},
     {"data": {"values": [{}]}, "mark": {"type": "text", "fontSize": 6, "align": "left"}, "encoding": {"x": {"datum": 3.35, "axis": null}, "y": {"datum": -63, "axis": null}, "text": {"value": "-80"}}}
    ]
   },
   {
    "width": 156, "height": 80,
    "layer": [
     {"data": {"name": "tc"}, "mark": {"type": "line", "interpolate": "monotone"}, "encoding": {
       "x": {"field": "t", "type": "quantitative", "scale": {"domain": [-0.5, 3.5], "nice": false, "zero": false}, "axis": null},
       "y": {"field": "i", "type": "quantitative", "scale": {"domain": [-0.15, 3.95], "nice": false, "zero": false}, "axis": null},
       "detail": {"field": "k", "type": "quantitative"}, "color": {"condition": {"test": "datum.k >= 8", "value": "#000000"}, "value": "#8c8c8c"}, "strokeWidth": {"condition": {"test": "datum.k >= 8", "value": 1.3}, "value": 0.7}}},
     {"data": {"values": [{}]}, "mark": {"type": "rule", "color": "#000", "strokeWidth": 0.8}, "encoding": {"x": {"datum": -0.03, "axis": null}, "y": {"datum": 0, "axis": null}, "y2": {"datum": 1}}},
     {"data": {"values": [{}]}, "mark": {"type": "rule", "color": "#000", "strokeWidth": 0.8}, "encoding": {"x": {"datum": 0, "axis": null}, "x2": {"datum": 1}, "y": {"datum": -0.36, "axis": null}}},
     {"data": {"values": [{}]}, "mark": {"type": "text", "angle": 270, "fontSize": 7}, "encoding": {"x": {"datum": -0.2, "axis": null}, "y": {"datum": 0.5, "axis": null}, "text": {"value": "1 µA"}}},
     {"data": {"values": [{}]}, "mark": {"type": "text", "fontSize": 7}, "encoding": {"x": {"datum": 0.5, "axis": null}, "y": {"datum": -0.72, "axis": null}, "text": {"value": "1 s"}}},
     {"data": {"values": [{}]}, "mark": {"type": "text", "fontSize": 7, "angle": 20}, "encoding": {"x": {"datum": 1.9, "axis": null}, "y": {"datum": 0.58, "axis": null}, "text": {"value": "↓"}}},
     {"data": {"values": [{}]}, "mark": {"type": "text", "fontSize": 9.5}, "encoding": {"x": {"datum": 1.37, "axis": null}, "y": {"datum": 4.46, "axis": null}, "text": {"value": "100 µM NADA"}}}
    ]
   },
   {
    "width": 120, "height": 80,
    "layer": [
     {"data": {"name": "ivc"}, "mark": {"type": "line", "interpolate": "monotone", "color": "#000", "strokeWidth": 1}, "encoding": {
       "x": {"field": "v", "type": "quantitative", "scale": {"domain": [-106, 50], "nice": false, "zero": false}, "axis": {"values": [-100, -50, 0, 50], "title": "Voltage (mV)"}},
       "y": {"field": "i", "type": "quantitative", "scale": {"domain": [0, 2], "nice": false}, "axis": {"values": [0, 0.5, 1, 1.5, 2], "format": ".1f", "title": "Iₜₐᵢₗ (µA)"}},
       "strokeDash": {"field": "g", "type": "nominal", "scale": {"domain": ["Ctrl", "Drug"], "range": [[1, 0], [3, 2]]}, "legend": null}}},
     {"data": {"name": "ivc"}, "mark": {"type": "circle", "size": 26, "strokeWidth": 0.8, "opacity": 1}, "encoding": {
       "x": {"field": "v", "type": "quantitative", "axis": {"values": [-100, -50, 0, 50], "title": "Voltage (mV)"}},
       "y": {"field": "i", "type": "quantitative", "axis": {"values": [0, 0.5, 1, 1.5, 2], "format": ".1f", "title": "Iₜₐᵢₗ (µA)"}},
       "fill": {"field": "g", "type": "nominal", "scale": {"domain": ["Ctrl", "Drug"], "range": ["#ffffff", "#c94a62"]}, "legend": null},
       "stroke": {"field": "g", "type": "nominal", "scale": {"domain": ["Ctrl", "Drug"], "range": ["#222222", "#6b2030"]}, "legend": null}}},
     {"data": {"values": [{}]}, "mark": {"type": "circle", "size": 26, "strokeWidth": 0.8, "opacity": 1, "fill": "#ffffff", "stroke": "#222222"}, "encoding": {"x": {"datum": -16, "axis": {"values": [-100, -50, 0, 50], "title": "Voltage (mV)"}}, "y": {"datum": 0.37, "axis": {"values": [0, 0.5, 1, 1.5, 2], "format": ".1f", "title": "Iₜₐᵢₗ (µA)"}}}},
     {"data": {"values": [{}]}, "mark": {"type": "circle", "size": 26, "strokeWidth": 0.8, "opacity": 1, "fill": "#c94a62", "stroke": "#6b2030"}, "encoding": {"x": {"datum": -16, "axis": {"values": [-100, -50, 0, 50], "title": "Voltage (mV)"}}, "y": {"datum": 0.15, "axis": {"values": [0, 0.5, 1, 1.5, 2], "format": ".1f", "title": "Iₜₐᵢₗ (µA)"}}}},
     {"data": {"values": [{}]}, "mark": {"type": "text", "fontSize": 8, "align": "left", "color": "#222"}, "encoding": {"x": {"datum": -10, "axis": {"values": [-100, -50, 0, 50], "title": "Voltage (mV)"}}, "y": {"datum": 0.37, "axis": {"values": [0, 0.5, 1, 1.5, 2], "format": ".1f", "title": "Iₜₐᵢₗ (µA)"}}, "text": {"value": "Ctrl"}}},
     {"data": {"values": [{}]}, "mark": {"type": "text", "fontSize": 8, "align": "left", "color": "#222"}, "encoding": {"x": {"datum": -10, "axis": {"values": [-100, -50, 0, 50], "title": "Voltage (mV)"}}, "y": {"datum": 0.15, "axis": {"values": [0, 0.5, 1, 1.5, 2], "format": ".1f", "title": "Iₜₐᵢₗ (µA)"}}, "text": {"value": "100 µM NADA"}}}
    ]
   }
  ]
 }
]
}
